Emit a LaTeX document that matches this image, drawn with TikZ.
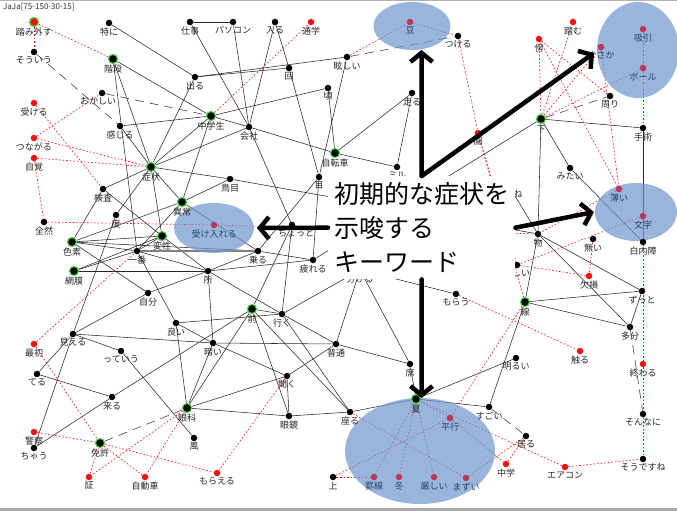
\documentclass[tikz,border=0pt]{standalone}
\usepackage{fontspec}
\setmainfont{Noto Sans CJK JP}
\usetikzlibrary{arrows.meta, backgrounds}

\definecolor{ringgreen}{RGB}{60,215,60}
\definecolor{dotred}{RGB}{250,15,15}
\definecolor{kwred}{RGB}{185,55,90}
\definecolor{kwtext}{RGB}{45,65,105}
\definecolor{bubble}{RGB}{110,150,205}

\begin{document}
\begin{tikzpicture}[line cap=round,line join=round,x=1pt,y=-1pt,
    wd/.style={circle,fill=black,inner sep=0pt,minimum size=6.5pt},
    hub/.style={wd,draw=ringgreen,line width=1.1pt,minimum size=9pt},
    rw/.style={wd,fill=dotred},
    rhub/.style={hub,fill=dotred},
    kw/.style={wd,fill=kwred},
    kwlbl/.style={text=kwtext},
    every label/.style={font=\fontsize{9}{10}\selectfont,inner sep=1pt,text=black!85},
    label distance=0pt,
    ln/.style={black!85,line width=0.55pt},
    rl/.style={red,line width=0.6pt,dash pattern=on 1.6pt off 2pt},
    dl/.style={black!75,line width=0.6pt,dash pattern=on 9pt off 6pt},
    bubblefill/.style={fill=bubble,fill opacity=0.7},
    msgbox/.style={fill=white,anchor=north west,minimum width=187pt,minimum height=103pt,inner sep=0pt,align=left,font=\fontsize{25}{34}\selectfont},
    bigarrow/.style={line width=4.5pt,-{Straight Barb[length=9pt,width=22pt]}}]

    \useasboundingbox (0,0) rectangle (677,511);

    % window frame
    \draw[gray!60, line width=1pt] (0,0.5) -- (677,0.5);
    \fill[gray!65] (0,507.5) rectangle (677,511);
    \node[anchor=west, inner sep=0pt, font=\fontsize{8}{9}\selectfont, text=black!80] (title) at (3,7) {JaJa[75-150-30-15]};

    % hubs (green ring)
    \draw (34,22) node[rhub] (fumihazusu) [label=below:踏み外す] {};
    \draw (113,59) node[hub] (kaidan) [label=below:階段] {};
    \draw (211,116) node[hub] (chugakusei) [label=below:中学生] {};
    \draw (151,167) node[hub] (shojo) [label=below:症状] {};
    \draw (335,153) node[hub] (jitensha) [label=below:自転車] {};
    \draw (541,119) node[hub] (shita) [label=below:下] {};
    \draw (182,202) node[hub] (ijo) [label=below:異常] {};
    \draw (162,236) node[hub] (hensei) [label=below:変性] {};
    \draw (72,242) node[hub] (shikiso) [label=below:色素] {};
    \draw (74,271) node[hub] (moumaku) [label=below:網膜] {};
    \draw (252,309) node[hub] (mae) [label=below:前] {};
    \draw (187,408) node[hub] (ganka) [label=below:眼科] {};
    \draw (100,443) node[hub] (menkyo) [label=below:免許] {};
    \draw (416,399) node[hub] (natsu) [label=below:夏] {};
    \draw (525,302) node[hub] (sen) [label=below:線] {};

    % words
    \draw (34,52) node[wd] (soiu) [label=below:そういう] {};
    \draw (109,23) node[wd] (tokuni) [label=below:特に] {};
    \draw (190,22) node[wd] (shigoto) [label=below:仕事] {};
    \draw (233,22) node[wd] (pasokon) [label=below:パソコン] {};
    \draw (275,22) node[wd] (hairu) [label=below:入る] {};
    \draw (195,77) node[wd] (deru) [label=below:出る] {};
    \draw (102,93) node[wd] (okashii) [label={[xshift=-4pt]below:おかしい}] {};
    \draw (120,126) node[wd] (kanjiru) [label=below:感じる] {};
    \draw (347,57) node[wd] (mabushii) [label=below:眩しい] {};
    \draw (289,68) node[wd] (kai) [label=below:回] {};
    \draw (328,88) node[wd] (koro) [label=below:頃] {};
    \draw (412,93) node[wd] (hashiru) [label=below:走る] {};
    \draw (249,127) node[wd] (kaisha) [label=below:会社] {};
    \draw (458,36) node[wd] (tsukeru) [label=below:つける] {};
    \draw (610,96) node[wd] (mawari) [label=below:周り] {};
    \draw (643,128) node[wd] (shujutsu) [label=below:手術] {};
    \draw (570,168) node[wd] (mitai) [label=below:みたい] {};
    \draw (230,179) node[wd] (torime) [label=below:鳥目] {};
    \draw (103,189) node[wd] (kensa) [label=below:検査] {};
    \draw (44,222) node[wd] (zenzen) [label=below:全然] {};
    \draw (116,215) node[wd] (do) [label=below:度] {};
    \draw (137,251) node[wd] (ichiban) [label=below:一番] {};
    \draw (208,271) node[wd] (tokoro) [label=below:所] {};
    \draw (148,293) node[wd] (jibun) [label=below:自分] {};
    \draw (176,323) node[wd] (yoi) [label=below:良い] {};
    \draw (73,334) node[wd] (mieru) [label=below:見える] {};
    \draw (319,177) node[wd] (me) [label=below:目] {};
    \draw (292,225) node[wd] (chotto) [label={[xshift=4pt]below:ちょっと}] {};
    \draw (258,251) node[wd] (noru) [label=below:乗る] {};
    \draw (313,260) node[wd] (tsukareru) [label=below:疲れる] {};
    \draw (282,314) node[wd] (iku) [label=below:行く] {};
    \draw (397,167) node[wd] (miru) [label=below:ミル] {};
    \draw (360,270) node[wd] (wakaru) [label=below:分かる] {};
    \draw (643,242) node[wd] (hakunaisho) [label=below:白内障] {};
    \draw (538,234) node[wd] (mono) [label=below:物] {};
    \draw (593,239) node[wd] (nai) [label=below:無い] {};
    \draw (509,186) node[wd] (ne) [label={[xshift=9pt]below:ね}] {};
    \draw (517,265) node[wd] (shii) [label={[xshift=4pt]below:しい}] {};
    \draw (642,291) node[wd] (zutto) [label=below:ずっと] {};
    \draw (456,294) node[wd] (morau) [label=below:もらう] {};
    \draw (630,327) node[wd] (tabun) [label=below:多分] {};
    \draw (121,351) node[wd] (itteiu) [label=below:っていう] {};
    \draw (213,343) node[wd] (kurai) [label=below:暗い] {};
    \draw (37,374) node[wd] (teru) [label=below:てる] {};
    \draw (112,397) node[wd] (kuru) [label=below:来る] {};
    \draw (34,448) node[wd] (chau) [label=below:ちゃう] {};
    \draw (194,438) node[wd] (kaze) [label=below:風] {};
    \draw (336,344) node[wd] (futsu) [label=below:普通] {};
    \draw (410,364) node[wd] (seki) [label=below:席] {};
    \draw (287,376) node[wd] (kiku) [label=below:聞く] {};
    \draw (289,416) node[wd] (megane) [label=below:眼鏡] {};
    \draw (350,412) node[wd] (suwaru) [label=below:座る] {};
    \draw (333,477) node[wd] (ue) [label=below:上] {};
    \draw (516,358) node[wd] (akarui) [label=below:明るい] {};
    \draw (489,407) node[wd] (sugoi) [label=below:すごい] {};
    \draw (643,414) node[wd] (sonnani) [label=below:そんなに] {};
    \draw (526,436) node[wd] (iru) [label=below:居る] {};
    \draw (643,459) node[wd] (soudesune) [label=below:そうですね] {};

    % red words
    \draw (311,22) node[rw] (tsugaku) [label=below:通学] {};
    \draw (34,103) node[rw] (ukeru) [label=below:受ける] {};
    \draw (34,138) node[rw] (tsunagaru) [label=below:つながる] {};
    \draw (34,158) node[rw] (jikaku) [label=below:自覚] {};
    \draw (539,39) node[rw] (soba) [label=below:傍] {};
    \draw (573,22) node[rw] (fumu) [label=below:踏む] {};
    \draw (478,133) node[rw] (en) [label=below:園] {};
    \draw (589,276) node[rw] (kesson) [label=below:欠損] {};
    \draw (34,344) node[rw] (saisho) [label=below:最初] {};
    \draw (34,432) node[rw] (keisatsu) [label=below:警察] {};
    \draw (89,477) node[rw] (sho) [label=below:証] {};
    \draw (145,477) node[rw] (jidosha) [label=below:自動車] {};
    \draw (217,473) node[rw] (moraeru) [label=below:もらえる] {};
    \draw (580,351) node[rw] (sawaru) [label=below:触る] {};
    \draw (643,364) node[rw] (owaru) [label=below:終わる] {};
    \draw (506,464) node[rw] (chugaku) [label=below:中学] {};
    \draw (565,467) node[rw] (eakon) [label=below:エアコン] {};

    % keywords
    \draw (410,22) node[kw] (mame) [label={[kwlbl]below:豆}] {};
    \draw (643,29) node[kw] (kyuin) [label={[kwlbl]below:吸引}] {};
    \draw (601,47) node[kw] (masaka) [label={[kwlbl]below:まさか}] {};
    \draw (643,68) node[kw] (boru) [label={[kwlbl]below:ボール}] {};
    \draw (214,225) node[kw] (ukeireru) [label={[kwlbl]below:受け入れる}] {};
    \draw (619,189) node[kw] (usui) [label={[kwlbl]below:薄い}] {};
    \draw (643,216) node[kw] (moji) [label={[kwlbl]below:文字}] {};
    \draw (450,418) node[kw] (heiko) [label={[kwlbl]below:平行}] {};
    \draw (374,477) node[kw] (keisen) [label={[kwlbl]below:罫線}] {};
    \draw (399,477) node[kw] (fuyu) [label={[kwlbl]below:冬}] {};
    \draw (434,477) node[kw] (kibishii) [label={[kwlbl]below:厳しい}] {};
    \draw (466,478) node[kw] (mazui) [label={[kwlbl]below:まずい}] {};

    \begin{pgfonlayer}{background}
        % co-occurrence links
        \draw[ln] (tokuni) -- (deru);
        \draw[ln] (shigoto) -- (pasokon);
        \draw[ln] (shigoto) -- (kaisha);
        \draw[ln] (deru) -- (kai);
        \draw[ln] (deru) -- (mabushii);
        \draw[ln] (deru) -- (shojo);
        \draw[ln] (kaidan) -- (chugakusei);
        \draw[ln] (kaidan) -- (shojo);
        \draw[ln] (kaidan) -- (ichiban);
        \draw[ln] (kanjiru) -- (chugakusei);
        \draw[ln] (kanjiru) -- (shojo);
        \draw[ln] (chugakusei) -- (shojo);
        \draw[ln] (chugakusei) -- (ijo);
        \draw[ln] (chugakusei) -- (kaisha);
        \draw[ln] (chugakusei) -- (koro);
        \draw[ln] (pasokon) -- (kaisha);
        \draw[ln] (hairu) -- (kaisha);
        \draw[ln] (hairu) -- (kai);
        \draw[ln] (kai) -- (me);
        \draw[ln] (mabushii) -- (me);
        \draw[ln] (koro) -- (jitensha);
        \draw[ln] (kaisha) -- (jitensha);
        \draw[ln] (kaisha) -- (shojo);
        \draw[ln] (kaisha) -- (chotto);
        \draw[ln] (hashiru) -- (jitensha);
        \draw[ln] (hashiru) -- (miru);
        \draw[ln] (jitensha) -- (miru);
        \draw[ln] (shojo) -- (torime);
        \draw[ln] (shojo) -- (kensa);
        \draw[ln] (shojo) -- (ijo);
        \draw[ln] (shojo) -- (hensei);
        \draw[ln] (do) -- (shojo);
        \draw[ln] (do) -- (mieru);
        \draw[ln] (torime) -- (ijo);
        \draw[ln] (torime) -- (mono);
        \draw[ln] (kensa) -- (shikiso);
        \draw[ln] (kensa) -- (hensei);
        \draw[ln] (ijo) -- (ichiban);
        \draw[ln] (ijo) -- (shikiso);
        \draw[ln] (ijo) -- (noru);
        \draw[ln] (shikiso) -- (hensei);
        \draw[ln] (shikiso) -- (ichiban);
        \draw[ln] (shikiso) -- (noru);
        \draw[ln] (shikiso) -- (jibun);
        \draw[ln] (moumaku) -- (tokoro);
        \draw[ln] (moumaku) -- (hensei);
        \draw[ln] (moumaku) -- (ichiban);
        \draw[ln] (hensei) -- (tokoro);
        \draw[ln] (hensei) -- (ichiban);
        \draw[ln] (ichiban) -- (tokoro);
        \draw[ln] (ichiban) -- (yoi);
        \draw[gray, line width=1.2pt] (ichiban) -- (noru);
        \draw[ln] (jibun) -- (tokoro);
        \draw[ln] (jibun) -- (mieru);
        \draw[ln] (tokoro) -- (noru);
        \draw[ln] (tokoro) -- (iku);
        \draw[ln] (tokoro) -- (kurai);
        \draw[ln] (tokoro) -- (tsukareru);
        \draw[ln] (noru) -- (tsukareru);
        \draw[ln] (me) -- (tsukareru);
        \draw[ln] (me) -- (noru);
        \draw[ln] (chotto) -- (iku);
        \draw[ln] (chotto) -- (mae);
        \draw[ln] (mae) -- (iku);
        \draw[ln] (mae) -- (megane);
        \draw[ln] (mae) -- (ganka);
        \draw[ln] (mae) -- (suwaru);
        \draw[ln] (yoi) -- (iku);
        \draw[ln] (yoi) -- (kurai);
        \draw[ln] (yoi) -- (ganka);
        \draw[ln] (kurai) -- (futsu);
        \draw[ln] (kurai) -- (kiku);
        \draw[ln] (kurai) -- (mieru);
        \draw[ln] (mieru) -- (teru);
        \draw[ln] (mieru) -- (chau);
        \draw[ln] (mieru) -- (itteiu);
        \draw[ln] (teru) -- (kuru);
        \draw[ln] (kuru) -- (mae);
        \draw[ln] (kuru) -- (chau);
        \draw[ln] (itteiu) -- (kaze);
        \draw[ln] (ganka) -- (kiku);
        \draw[ln] (ganka) -- (megane);
        \draw[ln] (ganka) -- (kurai);
        \draw[ln] (kiku) -- (futsu);
        \draw[ln] (kiku) -- (megane);
        \draw[ln] (iku) -- (futsu);
        \draw[ln] (iku) -- (suwaru);
        \draw[ln] (iku) -- (wakaru);
        \draw[ln] (megane) -- (suwaru);
        \draw[ln] (suwaru) -- (natsu);
        \draw[ln] (seki) -- (natsu);
        \draw[ln] (seki) -- (wakaru);
        \draw[ln] (futsu) -- (seki);
        \draw[ln] (wakaru) -- (futsu);
        \draw[ln] (natsu) -- (sugoi);
        \draw[ln] (natsu) -- (akarui);
        \draw[ln] (sen) -- (sugoi);
        \draw[ln] (sen) -- (zutto);
        \draw[ln] (sen) -- (tabun);
        \draw[ln] (sen) -- (mono);
        \draw[ln] (mono) -- (zutto);
        \draw[ln] (mono) -- (tabun);
        \draw[ln] (mono) -- (shita);
        \draw[ln] (shita) -- (mitai);
        \draw[ln] (shita) -- (shujutsu);
        \draw[ln] (shita) -- (tsukareru);
        \draw[ln] (mitai) -- (hakunaisho);
        \draw[ln] (shujutsu) -- (hakunaisho);
        \draw[ln] (zutto) -- (tabun);
        \draw[ln] (ne) -- (mono);
        \draw[ln] (morau) -- (wakaru);

        \draw[dl] (soiu) -- (kanjiru);
        \draw[dl] (okashii) -- (chugakusei);
        \draw[dl] (mabushii) -- (tsukeru);
        \draw[dl] (shita) -- (mawari);
        \draw[dl] (menkyo) -- (ganka);
        \draw[dl] (sugoi) -- (iru);
        \draw[dl] (tabun) -- (sonnani);

        \draw[rl] (fumihazusu) -- (soiu);
        \draw[rl] (fumihazusu) -- (kaidan);
        \draw[rl] (tsunagaru) -- (shojo);
        \draw[rl] (jikaku) -- (shojo);
        \draw[rl] (tsunagaru) -- (okashii);
        \draw[rl] (ukeru) -- (kensa);
        \draw[rl] (jikaku) -- (zenzen);
        \draw[rl] (chugakusei) -- (tsugaku);
        \draw[rl] (mabushii) -- (mame);
        \draw[rl] (mame) -- (tsukeru);
        \draw[rl] (tsukeru) -- (en);
        \draw[rl] (en) -- (sen);
        \draw[rl] (en) -- (shii);
        \draw[rl] (shita) -- (soba);
        \draw[rl] (shita) -- (fumu);
        \draw[rl] (shita) -- (masaka);
        \draw[rl] (shita) -- (boru);
        \draw[rl] (soba) -- (mawari);
        \draw[rl] (soba) -- (usui);
        \draw[rl] (masaka) -- (usui);
        \draw[rl] (kyuin) -- (boru);
        \draw[rl] (boru) -- (shujutsu);
        \draw[rl] (moji) -- (owaru);
        \draw[rl] (owaru) -- (soudesune);
        \draw[rl] (moji) -- (shii);
        \draw[rl] (usui) -- (mono);
        \draw[rl] (nai) -- (kesson);
        \draw[rl] (kesson) -- (shii);
        \draw[rl] (morau) -- (sawaru);
        \draw[rl] (sen) -- (heiko);
        \draw[rl] (natsu) -- (keisen);
        \draw[rl] (natsu) -- (fuyu);
        \draw[rl] (natsu) -- (kibishii);
        \draw[rl] (natsu) -- (heiko);
        \draw[rl] (suwaru) -- (mazui);
        \draw[rl] (ue) -- (heiko);
        \draw[rl] (ue) -- (keisen);
        \draw[rl] (heiko) -- (chugaku);
        \draw[rl] (mazui) -- (iru);
        \draw[rl] (chugaku) -- (iru);
        \draw[rl] (eakon) -- (natsu);
        \draw[rl] (eakon) -- (soudesune);
        \draw[rl] (saisho) -- (menkyo);
        \draw[rl] (saisho) -- (ichiban);
        \draw[rl] (keisatsu) -- (menkyo);
        \draw[rl] (menkyo) -- (sho);
        \draw[rl] (menkyo) -- (jidosha);
        \draw[rl] (menkyo) -- (moraeru);
        \draw[rl] (ganka) -- (sho);
        \draw[rl] (ganka) -- (jidosha);
        \draw[rl] (kiku) -- (moraeru);
        \draw[rl] (zenzen) -- (ukeireru);
        \draw[rl] (ukeireru) -- (mono);

        % highlighted keyword groups
        \fill[bubblefill] (412,26) ellipse (38.5 and 24);
        \fill[bubblefill] (638,50) ellipse (41 and 48);
        \fill[bubblefill] (214,228) ellipse (40 and 25);
        \fill[bubblefill] (636,212) ellipse (41 and 29);
        \fill[bubblefill] (420,451) ellipse (75 and 53);
    \end{pgfonlayer}

    % caption and arrows
    \node[msgbox] (msg) at (328,176) {初期的な症状を\\示唆する\\キーワード};
    \coordinate (upTip) at (421.5,50);
    \coordinate (diagTip) at (594,53);
    \coordinate (leftTip) at (257,228);
    \coordinate (rightTip) at (594,212);
    \coordinate (downTip) at (421.5,398);
    \draw[bigarrow] (msg.north) -- (upTip);
    \draw[bigarrow] (msg.north) -- (diagTip);
    \draw[bigarrow] (msg.west) -- (leftTip);
    \draw[bigarrow] (msg.east) -- (rightTip);
    \draw[bigarrow] (msg.south) -- (downTip);

\end{tikzpicture}
\end{document}
